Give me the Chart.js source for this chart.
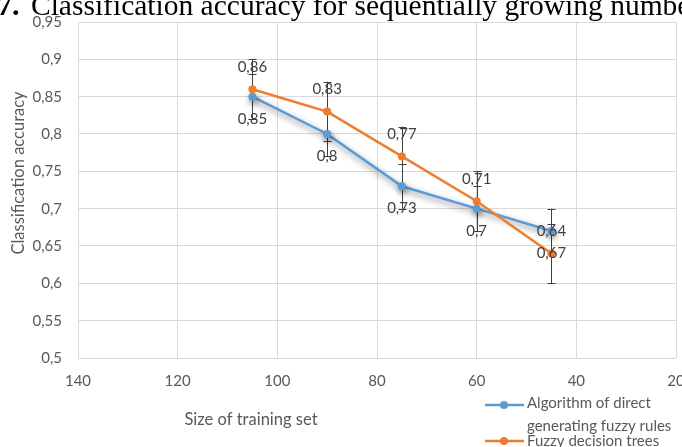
<!DOCTYPE html>
<html>
<head>
<meta charset="utf-8">
<script src="https://cdn.jsdelivr.net/npm/chart.js@4.4.1/dist/chart.umd.min.js"></script>
<style>
  html, body { margin: 0; padding: 0; background: #fff; overflow: hidden; }
  #wrap { position: relative; width: 682px; height: 447px; }
</style>
</head>
<body>
<div id="wrap"><canvas id="c" width="682" height="447"></canvas></div>
<script>
// Training set sizes (x) and accuracy of both methods
const trainingSizes = [105, 90, 75, 60, 45];
const directRules = [0.85, 0.80, 0.73, 0.70, 0.67];
const decisionTrees = [0.86, 0.83, 0.77, 0.71, 0.64];
// Error bar half-lengths
const directRulesErr = [0.03, 0.03, 0.03, 0.03, 0.03];
const decisionTreesErr = [0.04, 0.04, 0.04, 0.04, 0.04];
// Axis ticks
const xTicks = [140, 120, 100, 80, 60, 40, 20];
const yTicks = [0.5, 0.55, 0.6, 0.65, 0.7, 0.75, 0.8, 0.85, 0.9, 0.95];
// Series names (legend lines)
const directRulesName = ['Algorithm of direct', 'generating fuzzy rules'];
const decisionTreesName = ['Fuzzy decision trees'];
const captionNumber = '7.';
const captionText = 'Classification accuracy for sequentially growing number of training samples';
const xTitle = 'Size of training set';
const yTitle = 'Classification accuracy';

const BLUE = '#5B9BD5';
const ORANGE = '#ED7D31';
const GREY = '#595959';
const UI_FONT = 'Lato, "Open Sans", sans-serif';

const fmt = v => String(Number(v.toFixed(2))).replace('.', ',');

const errors = [directRulesErr, decisionTreesErr];

// Vertical error bars with caps, drawn under the lines
const errorBarPlugin = {
  id: 'errorBars',
  beforeDatasetsDraw(chart) {
    const { ctx, scales: { x, y } } = chart;
    ctx.save();
    ctx.strokeStyle = '#404040';
    ctx.lineWidth = 1;
    chart.data.datasets.forEach((ds, di) => {
      ds.data.forEach((p, i) => {
        const e = errors[di][i];
        const px = Math.round(x.getPixelForValue(p.x)) + 0.5;
        const y1 = y.getPixelForValue(p.y + e);
        const y2 = y.getPixelForValue(p.y - e);
        ctx.beginPath();
        ctx.moveTo(px, y1); ctx.lineTo(px, y2);
        ctx.moveTo(px - 4, Math.round(y1) + 0.5); ctx.lineTo(px + 4, Math.round(y1) + 0.5);
        ctx.moveTo(px - 4, Math.round(y2) + 0.5); ctx.lineTo(px + 4, Math.round(y2) + 0.5);
        ctx.stroke();
      });
    });
    ctx.restore();
  }
};

// Soft drop shadow under the blue series
const shadowPlugin = {
  id: 'lineShadow',
  beforeDatasetDraw(chart, args) {
    if (args.index !== 0) return;
    const ctx = chart.ctx;
    ctx.save();
    ctx.shadowColor = 'rgba(0,0,0,0.5)';
    ctx.shadowBlur = 6;
    ctx.shadowOffsetX = 1;
    ctx.shadowOffsetY = 3;
  },
  afterDatasetDraw(chart, args) {
    if (args.index !== 0) return;
    chart.ctx.restore();
  }
};

// Value labels: blue below each point, orange above
const valueLabelPlugin = {
  id: 'valueLabels',
  afterDatasetsDraw(chart) {
    const { ctx } = chart;
    ctx.save();
    ctx.font = '15px ' + UI_FONT;
    ctx.fillStyle = '#404040';
    ctx.textAlign = 'center';
    ctx.textBaseline = 'middle';
    chart.data.datasets.forEach((ds, di) => {
      const meta = chart.getDatasetMeta(di);
      meta.data.forEach((pt, i) => {
        const dy = di === 0 ? 22 : -22;
        ctx.fillText(fmt(ds.data[i].y), pt.x, pt.y + dy);
      });
    });
    ctx.restore();
  }
};

// Caption, axis titles and legend
const decorPlugin = {
  id: 'decor',
  afterDraw(chart) {
    const { ctx } = chart;
    ctx.save();
    // caption
    ctx.fillStyle = '#000';
    ctx.textBaseline = 'alphabetic';
    ctx.textAlign = 'left';
    ctx.font = 'bold 30px "Liberation Serif", serif';
    ctx.fillText(captionNumber, -3, 15);
    ctx.font = '29.5px "Liberation Serif", serif';
    ctx.fillText(captionText, 31, 15);

    // axis titles
    ctx.fillStyle = GREY;
    ctx.font = '16.5px ' + UI_FONT;
    ctx.textAlign = 'center';
    ctx.textBaseline = 'middle';
    ctx.fillText(xTitle, 251, 420);
    ctx.save();
    ctx.translate(19, 173);
    ctx.rotate(-Math.PI / 2);
    ctx.fillText(yTitle, 0, 0);
    ctx.restore();

    // legend
    const entries = [
      { color: BLUE, lineY: 405, lines: directRulesName, textY: [403, 426] },
      { color: ORANGE, lineY: 441, lines: decisionTreesName, textY: [441] }
    ];
    ctx.font = '15px ' + UI_FONT;
    ctx.textAlign = 'left';
    entries.forEach(en => {
      ctx.strokeStyle = en.color;
      ctx.lineWidth = 2.5;
      ctx.beginPath();
      ctx.moveTo(485, en.lineY); ctx.lineTo(524, en.lineY);
      ctx.stroke();
      ctx.fillStyle = en.color;
      ctx.beginPath();
      ctx.arc(504, en.lineY, 4, 0, Math.PI * 2);
      ctx.fill();
      ctx.fillStyle = GREY;
      en.lines.forEach((t, k) => ctx.fillText(t, 527, en.textY[k]));
    });
    ctx.restore();
  }
};

new Chart(document.getElementById('c'), {
  type: 'line',
  data: {
    datasets: [
      {
        label: directRulesName.join(' '),
        data: trainingSizes.map((x, i) => ({ x, y: directRules[i] })),
        borderColor: BLUE,
        backgroundColor: BLUE,
        borderWidth: 2.5,
        pointRadius: 4,
        pointBorderWidth: 0,
        pointBackgroundColor: BLUE,
        tension: 0,
        order: 1
      },
      {
        label: decisionTreesName.join(' '),
        data: trainingSizes.map((x, i) => ({ x, y: decisionTrees[i] })),
        borderColor: ORANGE,
        backgroundColor: ORANGE,
        borderWidth: 2.5,
        pointRadius: 4,
        pointBorderWidth: 0,
        pointBackgroundColor: ORANGE,
        tension: 0,
        order: 0
      }
    ]
  },
  options: {
    responsive: false,
    animation: false,
    devicePixelRatio: 1,
    layout: { padding: { top: 22, right: 6, left: 0, bottom: 0 } },
    plugins: { legend: { display: false }, tooltip: { enabled: false }, title: { display: false } },
    scales: {
      x: {
        type: 'linear',
        reverse: true,
        min: 20,
        max: 140,
        afterBuildTicks: s => { s.ticks = xTicks.map(v => ({ value: v })); },
        afterFit: s => { s.height = 89; s.paddingLeft = 0; s.paddingRight = 0; },
        grid: { color: '#d9d9d9', lineWidth: 1, drawTicks: false },
        border: { display: false },
        ticks: {
          padding: 14,
          color: GREY,
          font: { family: UI_FONT, size: 15 },
          maxRotation: 0,
          autoSkip: false,
          callback: v => String(v)
        }
      },
      y: {
        min: 0.5,
        max: 0.95,
        afterBuildTicks: s => { s.ticks = yTicks.map(v => ({ value: v })); },
        afterFit: s => { s.width = 78; s.paddingTop = 0; s.paddingBottom = 0; },
        grid: { color: '#d9d9d9', lineWidth: 1, drawTicks: false },
        border: { display: false },
        ticks: {
          padding: 16,
          color: GREY,
          font: { family: UI_FONT, size: 15 },
          autoSkip: false,
          callback: v => fmt(v)
        }
      }
    }
  },
  plugins: [errorBarPlugin, shadowPlugin, valueLabelPlugin, decorPlugin]
});
</script>
</body>
</html>
